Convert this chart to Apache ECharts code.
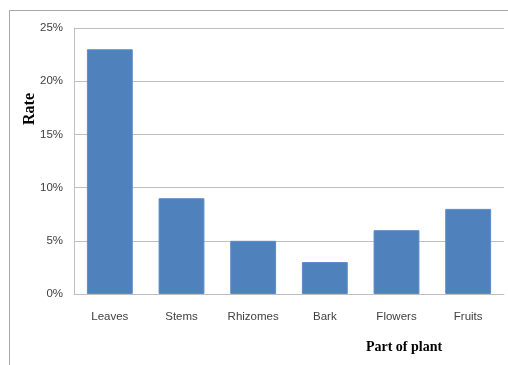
<!DOCTYPE html>
<html>
<head>
<meta charset="utf-8">
<script src="https://cdn.jsdelivr.net/npm/echarts@6/dist/echarts.min.js"></script>
<style>
  html, body { margin: 0; padding: 0; background: #fff; }
  #chart { width: 508px; height: 365px; }
</style>
</head>
<body>
<div id="chart"></div>
<script>
// plant parts and their usage rate (%)
var categories = ["Leaves", "Stems", "Rhizomes", "Bark", "Flowers", "Fruits"];
var rates = [23, 9, 5, 3, 6, 8];
var yTicks = [0, 5, 10, 15, 20, 25];

var chart = echarts.init(document.getElementById("chart"));
var labelFont = "'Liberation Sans Narrow', 'Liberation Sans', sans-serif";

var option = {
  animation: false,
  grid: { left: 74, right: 4, top: 28, bottom: 71 },
  graphic: [
    {
      type: "rect",
      shape: { x: 9.5, y: 10.5, width: 520, height: 380 },
      style: { fill: "none", stroke: "#a6a6a6", lineWidth: 1 }
    },
    {
      type: "text",
      x: 30, y: 109,
      rotation: Math.PI / 2,
      style: {
        text: "Rate",
        font: "bold 16px 'Liberation Serif', serif",
        fill: "#000",
        align: "center",
        verticalAlign: "middle"
      }
    },
    {
      type: "text",
      x: 404, y: 347,
      style: {
        text: "Part of plant",
        font: "bold 14px 'Liberation Serif', serif",
        fill: "#000",
        align: "center",
        verticalAlign: "middle"
      }
    }
  ],
  xAxis: {
    type: "category",
    data: categories,
    axisTick: { show: false },
    axisLine: { lineStyle: { color: "#bfbfbf" } },
    axisLabel: { color: "#404040", fontFamily: labelFont, fontSize: 11.5, margin: 17 }
  },
  yAxis: {
    type: "value",
    min: yTicks[0],
    max: yTicks[yTicks.length - 1],
    interval: 5,
    axisLine: { show: true, lineStyle: { color: "#bfbfbf" } },
    axisTick: { show: false },
    splitLine: { lineStyle: { color: "#bfbfbf" } },
    axisLabel: {
      color: "#404040",
      fontFamily: labelFont,
      fontSize: 11.5,
      margin: 11,
      formatter: "{value}%"
    }
  },
  series: [
    {
      type: "bar",
      data: rates,
      barWidth: "64%",
      itemStyle: { color: "#4f81bd", borderColor: "#5b8dc9", borderWidth: 1 }
    }
  ]
};

chart.setOption(option);
</script>
</body>
</html>
